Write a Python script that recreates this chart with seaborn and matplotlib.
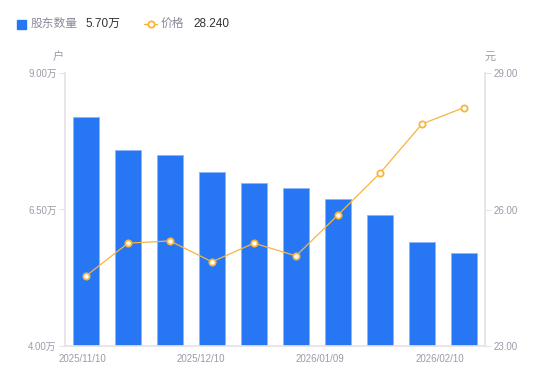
import matplotlib
matplotlib.use("Agg")
import matplotlib.pyplot as plt
import seaborn as sns
import pandas as pd
import numpy as np

dates = ["2025/11/10", "2025/11/20", "2025/11/30", "2025/12/10", "2025/12/19",
         "2025/12/31", "2026/01/09", "2026/01/20", "2026/01/30", "2026/02/10"]
holders = [8.19, 7.59, 7.50, 7.19, 6.99, 6.89, 6.69, 6.40, 5.90, 5.70]  # 万户
price = [24.54, 25.26, 25.31, 24.85, 25.26, 24.98, 25.88, 26.80, 27.88, 28.24]
shown_labels = ["2025/11/10", "2025/12/10", "2026/01/09", "2026/02/10"]

sns.set_theme(style="white")
plt.rcParams['font.family'] = ['Liberation Sans', 'Noto Sans CJK SC', 'DejaVu Sans']

df = pd.DataFrame({"date": dates, "holders": holders, "price": price})

BLUE = "#2777F5"
ORANGE = "#F8B53C"
AXC = "#E3E3E8"
TXT = "#9B9BAA"

fig = plt.figure(figsize=(5.5, 3.81), dpi=100)
W, H = 550, 381
ax = fig.add_axes([65 / W, 35 / H, 420 / W, 273 / H])
sns.barplot(data=df, x="date", y="holders", color=BLUE, width=0.6, ax=ax,
            edgecolor="#8DB6F9", linewidth=0.6, saturation=1)
ax.set_ylim(4, 9)
ax.set_xlim(-0.5, len(dates) - 0.5)
ax.set_yticks([4, 6.5, 9])
ax.set_yticklabels(["4.00万", "6.50万", "9.00万"])
ax.set_xlabel("")
ax.set_ylabel("")

ax2 = ax.twinx()
sns.lineplot(x=np.arange(len(dates)), y=price, ax=ax2, color=ORANGE, linewidth=0.9,
             marker="o", markersize=4.5, markerfacecolor="white",
             markeredgecolor=ORANGE, markeredgewidth=1.3)
ax2.set_ylim(23, 29)
ax2.set_yticks([23, 26, 29])
ax2.set_yticklabels(["23.00", "26.00", "29.00"])
ax2.set_xlim(-0.5, len(dates) - 0.5)

# x labels
pix = [82, 201, 320, 440]
xpos = [(p - 65) / 42 - 0.5 for p in pix]
ax.set_xticks(xpos)
ax.set_xticklabels(shown_labels)

for a in (ax, ax2):
    for s in a.spines.values():
        s.set_visible(False)
    a.tick_params(axis="both", colors=AXC, labelcolor=TXT, labelsize=7, width=0.8)
ax.spines["left"].set_visible(True)
ax.spines["left"].set_color(AXC)
ax.spines["bottom"].set_visible(True)
ax.spines["bottom"].set_color(AXC)
ax2.spines["right"].set_visible(True)
ax2.spines["right"].set_color(AXC)
ax.tick_params(axis="x", length=0, pad=6)
ax.tick_params(axis="y", length=4, pad=2)
ax2.tick_params(axis="y", length=4, pad=2)
ax.grid(False)
ax2.grid(False)

fig.text(58 / W, 1 - 57 / H, "户", color=TXT, fontsize=8, ha="center", va="center")
fig.text(490 / W, 1 - 57 / H, "元", color=TXT, fontsize=8, ha="center", va="center")

# legend
fig.patches.append(plt.Rectangle((17 / W, 1 - 29 / H), 9 / W, 9 / H, transform=fig.transFigure,
                                 color=BLUE, figure=fig))
fig.text(31 / W, 1 - 24 / H, "股东数量", color="#8A8A99", fontsize=8.5, va="center")
fig.text(85 / W, 1 - 24 / H, "5.70万", color="#333333", fontsize=8.5, va="center")
fig.lines.append(plt.Line2D([144 / W, 157 / W], [1 - 24 / H, 1 - 24 / H], transform=fig.transFigure,
                            color=ORANGE, linewidth=1))
fig.lines.append(plt.Line2D([150.5 / W], [1 - 24 / H], transform=fig.transFigure,
                            color=ORANGE, marker="o", markersize=4.5, markerfacecolor="white",
                            markeredgecolor=ORANGE, markeredgewidth=1.3, linestyle="none"))
fig.text(161 / W, 1 - 24 / H, "价格", color="#8A8A99", fontsize=8.5, va="center")
fig.text(193 / W, 1 - 24 / H, "28.240", color="#333333", fontsize=8.5, va="center")

fig.savefig("out.png", dpi=100)
